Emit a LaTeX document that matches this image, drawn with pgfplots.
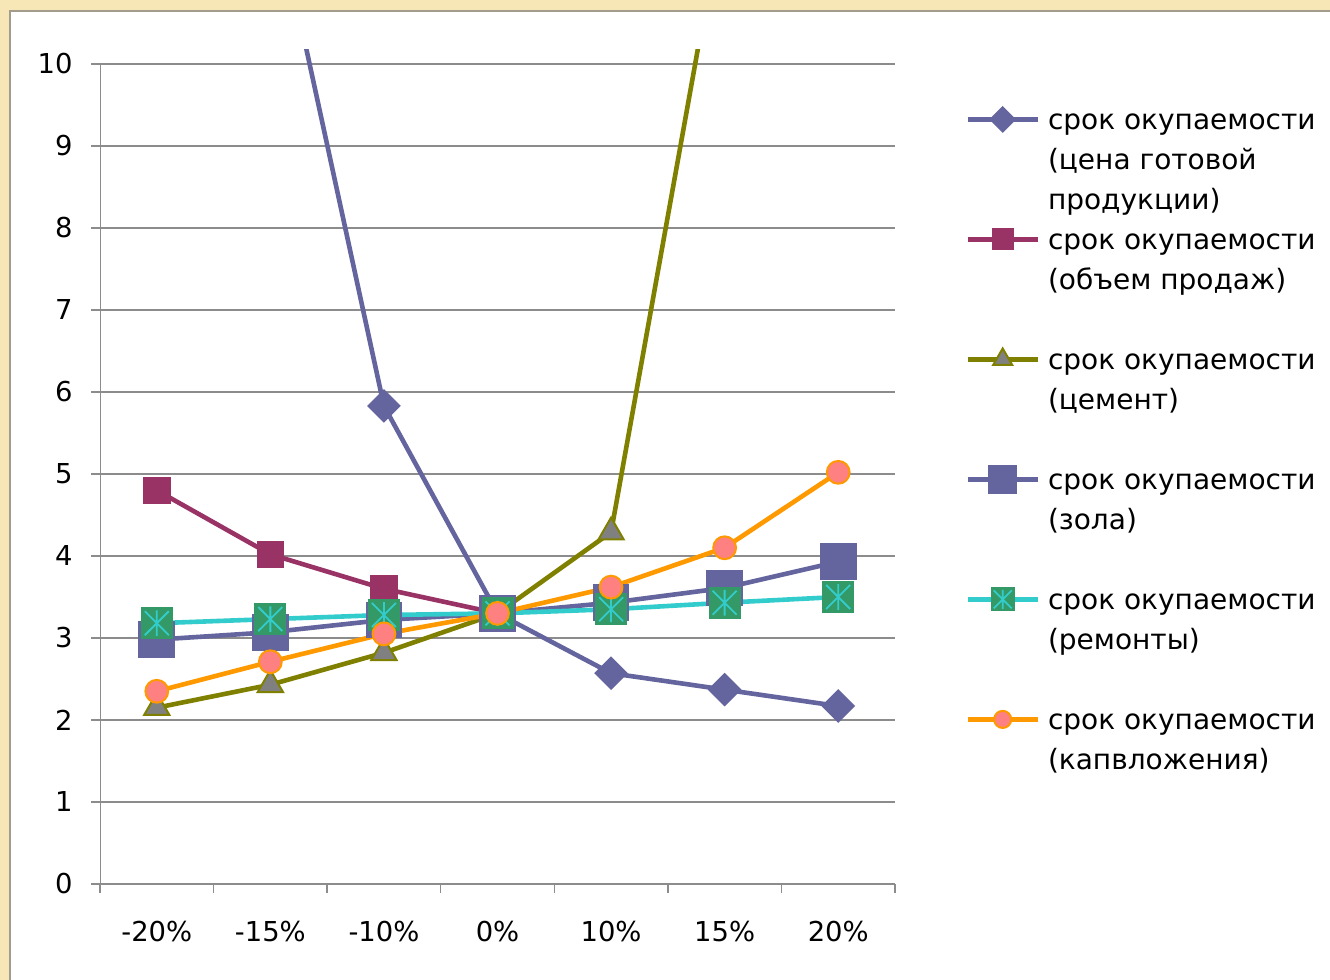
\documentclass[border=0pt]{standalone}
\usepackage{fontspec}
\setmainfont{DejaVu Sans}
\usepackage{pgfplots}
\pgfplotsset{compat=1.18}

\definecolor{bgcream}{HTML}{F8E7B6}
\definecolor{panelgray}{HTML}{A39C8C}
\definecolor{gridgray}{HTML}{8C8C8C}
\definecolor{cSlate}{HTML}{64649E}
\definecolor{cMaroon}{HTML}{993366}
\definecolor{cOlive}{HTML}{808000}
\definecolor{cGrey}{HTML}{808080}
\definecolor{cTurq}{HTML}{33CCCC}
\definecolor{cGreen}{HTML}{339966}
\definecolor{cOrange}{HTML}{FF9900}
\definecolor{cSalmon}{HTML}{FF8080}

% green square with a turquoise asterisk
\pgfdeclareplotmark{sqstar}{%
  \pgfpathrectangle{\pgfqpoint{-\pgfplotmarksize}{-\pgfplotmarksize}}{\pgfqpoint{2\pgfplotmarksize}{2\pgfplotmarksize}}%
  \pgfsetfillcolor{cGreen}\pgfusepathqfill
  \pgfsetstrokecolor{cTurq}\pgfsetlinewidth{0.9pt}%
  \pgfpathmoveto{\pgfqpoint{0pt}{-0.8\pgfplotmarksize}}%
  \pgfpathlineto{\pgfqpoint{0pt}{0.8\pgfplotmarksize}}%
  \pgfpathmoveto{\pgfqpoint{-0.75\pgfplotmarksize}{-0.75\pgfplotmarksize}}%
  \pgfpathlineto{\pgfqpoint{0.75\pgfplotmarksize}{0.75\pgfplotmarksize}}%
  \pgfpathmoveto{\pgfqpoint{-0.75\pgfplotmarksize}{0.75\pgfplotmarksize}}%
  \pgfpathlineto{\pgfqpoint{0.75\pgfplotmarksize}{-0.75\pgfplotmarksize}}%
  \pgfusepathqstroke
}

\newcommand{\entry}[1]{\parbox[t][60pt][t]{150pt}{\strut #1}}

\begin{document}
\begin{tikzpicture}
\useasboundingbox (0,0) rectangle (665pt,490pt);
\fill[bgcream] (0,0) rectangle (665pt,490pt);
\filldraw[fill=white, draw=panelgray, line width=0.8pt] (5pt,-2pt) rectangle (667pt,484.5pt);
\begin{axis}[
    at={(50pt,48pt)}, anchor=south west,
    scale only axis, width=397.5pt, height=417pt,
    xmin=-0.5, xmax=6.5, ymin=0, ymax=10.17,
    xtick={0,...,6},
    xticklabels={-20\%,-15\%,-10\%,0\%,10\%,15\%,20\%},
    minor xtick={-0.5,0.5,...,6.5},
    major x tick style={draw=none},
    ytick={0,...,10},
    ymajorgrids=true,
    grid style={gridgray, line width=0.75pt},
    tick align=outside,
    major tick length=4.5pt, minor tick length=4.5pt,
    tick style={gridgray, line width=0.75pt},
    axis x line*=bottom, axis y line*=left,
    y axis line style={draw=none},
    x axis line style={gridgray, line width=0.75pt},
    /pgf/number format/assume math mode=true,
    ticklabel style={font=\fontsize{13.7}{16}\selectfont, inner sep=0pt},
    yticklabel style={xshift=-9pt},
    xticklabel style={yshift=-14pt},
    every axis plot/.append style={line width=2.3pt},
    legend style={draw=none, fill=none, at={(1,1)}, anchor=north west,
        xshift=35pt, yshift=-25.5pt, inner sep=0pt, row sep=0pt,
        column sep=4pt, nodes={inner sep=0pt, text depth=}, cells={anchor=base west},
        font=\fontsize{14}{20}\selectfont},
    legend image code/.code={\draw[mark repeat=2,mark phase=2,#1]
        plot coordinates {(0pt,5pt)(17.5pt,5pt)(35pt,5pt)};},
    legend image post style={every mark/.append style={scale=0.75}},
]
\draw[gridgray, line width=0.75pt] (axis cs:-0.5,0) -- (axis cs:-0.5,10);

\addplot[color=cSlate, mark=square*, mark size=4.8pt,
    mark options={rotate=45, fill=cSlate, draw=none}]
    coordinates {(0,20)(1,12.2)(2,5.83)(3,3.30)(4,2.57)(5,2.37)(6,2.17)};
\addlegendentry{\entry{срок окупаемости\\(цена готовой\\продукции)}}

\addplot[color=cMaroon, mark=square*, mark size=5.75pt,
    mark options={fill=cMaroon, draw=none}]
    coordinates {(0,4.80)(1,4.02)(2,3.60)(3,3.30)};
\addlegendentry{\entry{срок окупаемости\\(объем продаж)}}

\addplot[color=cOlive, mark=triangle*, mark size=7.3pt,
    mark options={fill=cGrey, draw=cOlive, line width=1pt}]
    coordinates {(0,2.15)(1,2.43)(2,2.82)(3,3.30)(4,4.29)(5,12.0)(6,20)};
\addlegendentry{\entry{срок окупаемости\\(цемент)}}

\addplot[color=cSlate, mark=square*, mark size=8pt,
    mark options={fill=cSlate, draw=none}]
    coordinates {(0,2.98)(1,3.07)(2,3.22)(3,3.30)(4,3.43)(5,3.61)(6,3.93)};
\addlegendentry{\entry{срок окупаемости\\(зола)}}

\addplot[color=cTurq, mark=sqstar, mark size=8pt]
    coordinates {(0,3.18)(1,3.23)(2,3.28)(3,3.30)(4,3.35)(5,3.43)(6,3.50)};
\addlegendentry{\entry{срок окупаемости\\(ремонты)}}

\addplot[color=cOrange, mark=*, mark size=5.7pt,
    mark options={fill=cSalmon, draw=cOrange, line width=1pt}]
    coordinates {(0,2.35)(1,2.71)(2,3.05)(3,3.30)(4,3.62)(5,4.10)(6,5.02)};
\addlegendentry{\entry{срок окупаемости\\(капвложения)}}
\end{axis}
\end{tikzpicture}
\end{document}
